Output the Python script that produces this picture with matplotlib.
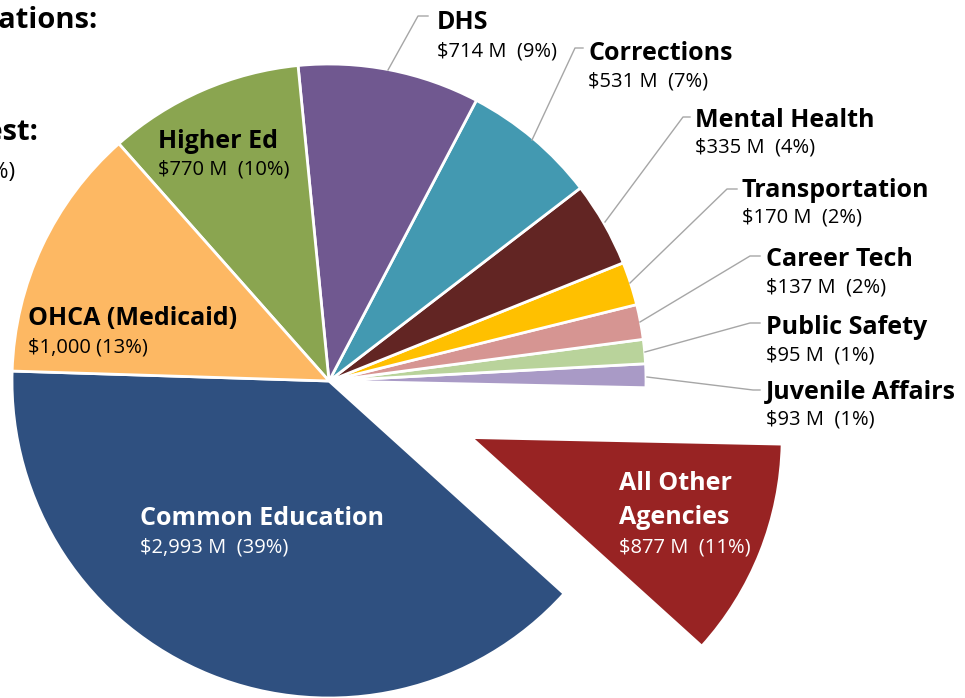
import matplotlib.pyplot as plt

# agency appropriations, counterclockwise from the left edge of the pie
agencies = ['Common Education', 'All Other\nAgencies', 'Juvenile Affairs', 'Public Safety',
            'Career Tech', 'Transportation', 'Mental Health', 'Corrections', 'DHS',
            'Higher Ed', 'OHCA (Medicaid)']
amounts = [2993, 877, 93, 95, 137, 170, 335, 531, 714, 770, 1000]
value_labels = ['$2,993 M  (39%)', '$877 M  (11%)', '$93 M  (1%)', '$95 M  (1%)',
                '$137 M  (2%)', '$170 M  (2%)', '$335 M  (4%)', '$531 M  (7%)',
                '$714 M  (9%)', '$770 M  (10%)', '$1,000 (13%)']
colors = ['#2F5080', '#982323', '#A99AC6', '#B9D39B', '#D69592', '#FFC000',
          '#622523', '#4399B1', '#705890', '#8AA550', '#FDB863']

W, H = 965, 698
plt.rcParams['font.family'] = ['Open Sans', 'DejaVu Sans']

fig = plt.figure(figsize=(W / 100, H / 100), dpi=100)
ax = fig.add_axes([0, 0, 1, 1])

cx, cy, R = 329, H - 381, 317
explode = [0, 153] + [0] * 9
wedges, _ = ax.pie(amounts, colors=colors, startangle=178.2, counterclock=True,
                   center=(cx, cy), radius=R, explode=explode,
                   wedgeprops=dict(edgecolor='white', linewidth=2))
wedges[1].set_radius(311)

ax.set_xlim(0, W)
ax.set_ylim(0, H)
ax.set_aspect('equal')
ax.axis('off')


def py(y):
    return H - y


# label positions in image pixels (x left, first bold baseline, value baseline)
label_pos = {
    'Common Education': (140, 525, 553, 'white'),
    'All Other\nAgencies': (619, 490, 553, 'white'),
    'Juvenile Affairs': (766, 399, 425, 'black'),
    'Public Safety': (766, 334, 360, 'black'),
    'Career Tech': (766, 266, 292, 'black'),
    'Transportation': (742, 197, 223, 'black'),
    'Mental Health': (695, 127, 153, 'black'),
    'Corrections': (588, 60, 86, 'black'),
    'DHS': (437, 29, 56, 'black'),
    'Higher Ed': (158, 148, 175, 'black'),
    'OHCA (Medicaid)': (28, 325, 352, 'black'),
}

for name, val in zip(agencies, value_labels):
    x, yb, yv, c = label_pos[name]
    for i, line in enumerate(name.split('\n')):
        ax.text(x, py(yb + 34 * i), line, fontsize=18, fontweight='bold', color=c,
                va='baseline', ha='left')
    ax.text(x, py(yv), val, fontsize=14.5, color=c, va='baseline', ha='left')

# leader lines: start on the wedge, elbow, end
leaders = {
    'DHS': [(388, 70), (418, 16), (428, 16)],
    'Corrections': [(532, 140), (575, 48), (583, 48)],
    'Mental Health': [(605, 222), (683, 117), (690, 117)],
    'Transportation': [(630, 283), (727, 189), (737, 189)],
    'Career Tech': [(640, 322), (750, 256), (760, 256)],
    'Public Safety': [(645, 352), (750, 323), (760, 323)],
    'Juvenile Affairs': [(647, 377), (753, 390), (760, 390)],
}
for pts in leaders.values():
    ax.plot([p[0] for p in pts], [py(p[1]) for p in pts], color='#A6A6A6', lw=1)

# title text cut off at the left edge of the picture
ax.text(97, py(28), 'Appropriations:', fontsize=21, fontweight='bold', ha='right', va='baseline')
ax.text(38, py(140), 'Largest:', fontsize=21, fontweight='bold', ha='right', va='baseline')
ax.text(15, py(178), '(89%)', fontsize=16, ha='right', va='baseline')

fig.savefig('out.png', dpi=100)
